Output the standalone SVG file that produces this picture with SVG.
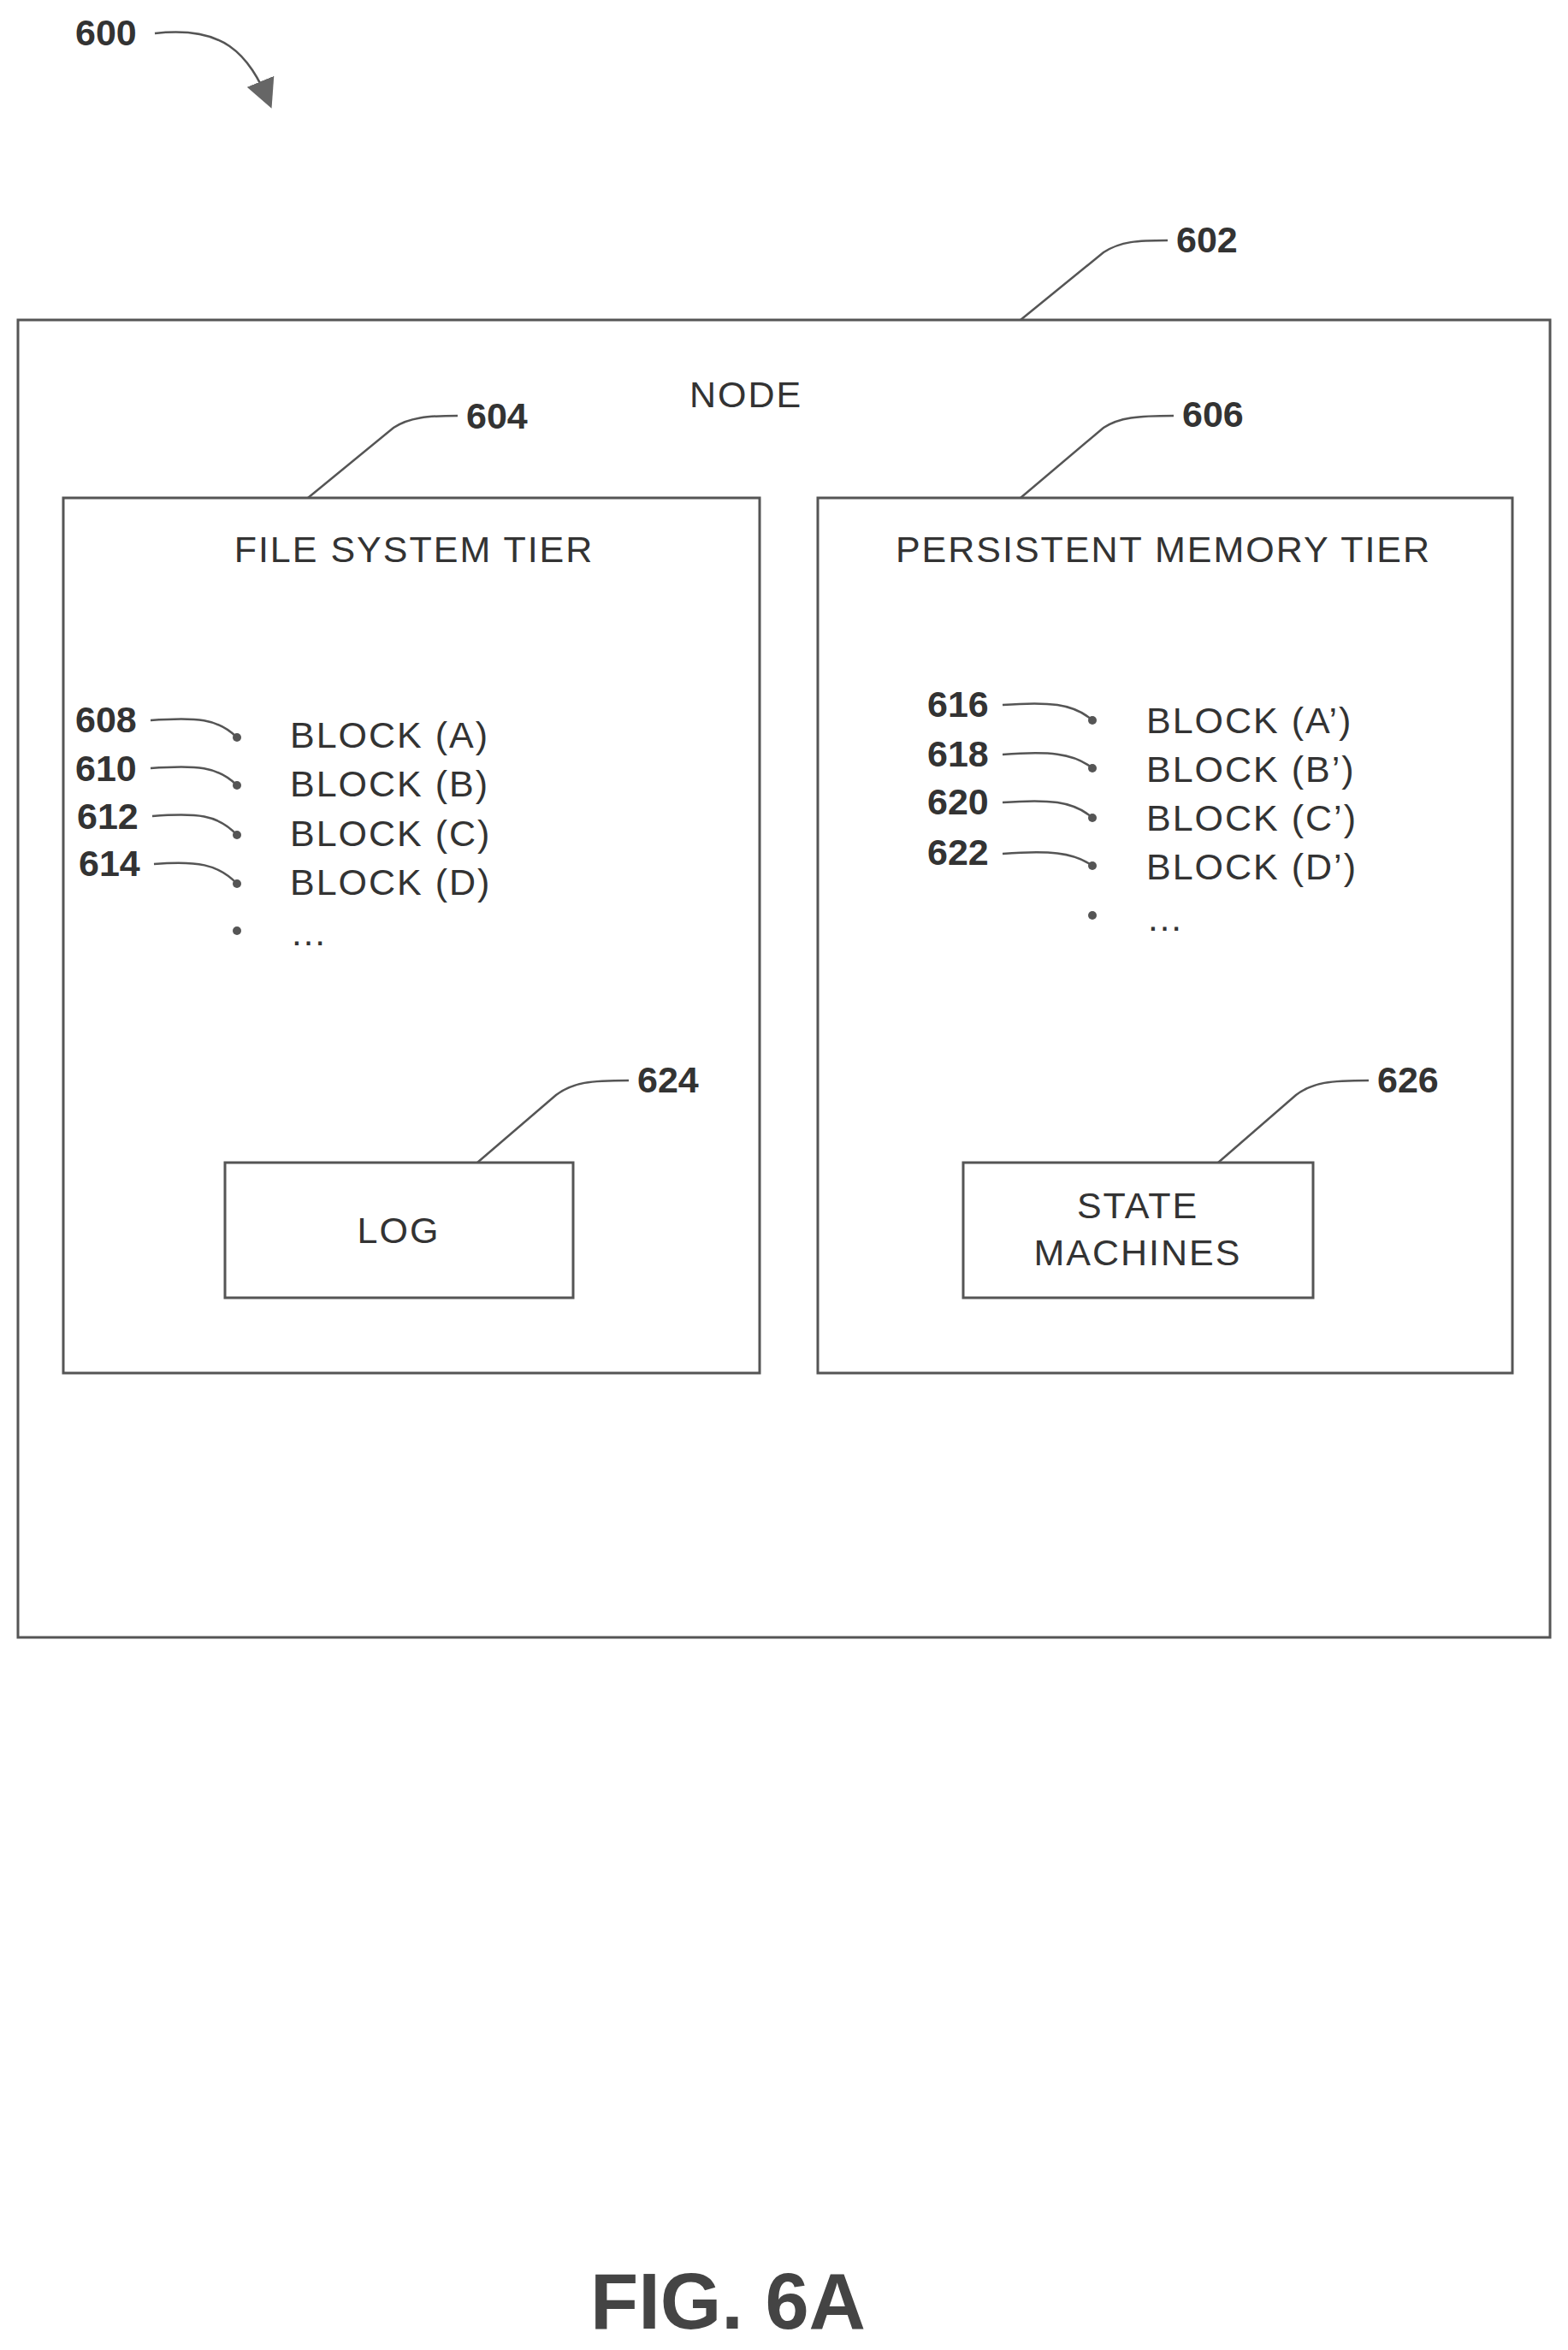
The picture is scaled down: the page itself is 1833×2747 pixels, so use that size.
<svg xmlns="http://www.w3.org/2000/svg" width="1833" height="2747" viewBox="0 0 1833 2747">
<style>
.box{fill:none;stroke:#555;stroke-width:3}
.ld{fill:none;stroke:#555;stroke-width:2.5}
.t{font-family:"Liberation Sans",Arial,sans-serif;font-size:43px;letter-spacing:2px;fill:#333}
.n{font-family:"Liberation Sans",Arial,sans-serif;font-size:43px;font-weight:bold;fill:#333}
.dot{fill:#555}
</style>
<defs>
<marker id="big" markerWidth="34" markerHeight="34" refX="30" refY="17" orient="auto" markerUnits="userSpaceOnUse" viewBox="0 0 34 34"><path d="M0,0 L34,17 L0,34 z" fill="#666"/></marker></defs>
<g id="node602"><rect class="box" x="21" y="374" width="1791" height="1540"/><text class="t" x="872" y="476" text-anchor="middle">NODE</text></g>
<g id="tier604"><rect class="box" x="74" y="582" width="814" height="1023"/><text class="t" x="484" y="657" text-anchor="middle">FILE SYSTEM TIER</text>
<text class="t" x="339" y="874">BLOCK (A)</text><text class="t" x="339" y="931">BLOCK (B)</text><text class="t" x="339" y="989">BLOCK (C)</text><text class="t" x="339" y="1046">BLOCK (D)</text><text class="t" x="339" y="1105">…</text>
<circle class="dot" cx="277" cy="862" r="5"/><circle class="dot" cx="277" cy="918" r="5"/><circle class="dot" cx="277" cy="976" r="5"/><circle class="dot" cx="277" cy="1033" r="5"/><circle class="dot" cx="277" cy="1088" r="5"/></g>
<g id="tier606"><rect class="box" x="956" y="582" width="812" height="1023"/><text class="t" x="1360" y="657" text-anchor="middle">PERSISTENT MEMORY TIER</text>
<text class="t" x="1340" y="857">BLOCK (A’)</text><text class="t" x="1340" y="914">BLOCK (B’)</text><text class="t" x="1340" y="971">BLOCK (C’)</text><text class="t" x="1340" y="1028">BLOCK (D’)</text><text class="t" x="1340" y="1088">…</text>
<circle class="dot" cx="1277" cy="842" r="5"/><circle class="dot" cx="1277" cy="898" r="5"/><circle class="dot" cx="1277" cy="956" r="5"/><circle class="dot" cx="1277" cy="1012" r="5"/><circle class="dot" cx="1277" cy="1070" r="5"/></g>
<g id="log624"><rect class="box" x="263" y="1359" width="407" height="158"/><text class="t" x="466" y="1453" text-anchor="middle">LOG</text></g>
<g id="sm626"><rect class="box" x="1126" y="1359" width="409" height="158"/><text class="t" x="1330" y="1424" text-anchor="middle">STATE</text><text class="t" x="1330" y="1479" text-anchor="middle">MACHINES</text></g>
<g id="labels">
<text class="n" x="88" y="53">600</text><text class="n" x="1375" y="295">602</text><text class="n" x="545" y="501">604</text><text class="n" x="1382" y="499">606</text>
<text class="n" x="88" y="856">608</text><text class="n" x="88" y="913">610</text><text class="n" x="90" y="969">612</text><text class="n" x="92" y="1024">614</text>
<text class="n" x="1084" y="838">616</text><text class="n" x="1084" y="896">618</text><text class="n" x="1084" y="952">620</text><text class="n" x="1084" y="1011">622</text>
<text class="n" x="745" y="1277">624</text><text class="n" x="1610" y="1277">626</text>
<text x="851" y="2722" text-anchor="middle" style="font-family:'Liberation Sans',Arial,sans-serif;font-size:92px;font-weight:bold;fill:#444">FIG. 6A</text></g>
<g id="connectors">
<path class="ld" d="M181,39 C260,30 290,60 316,123" marker-end="url(#big)"/>
<path class="ld" d="M1193,374 L1290,295 C1310,282 1330,281 1365,281"/>
<path class="ld" d="M360,582 L460,500 C478,488 500,486 535,486"/>
<path class="ld" d="M1193,582 L1290,500 C1308,488 1330,486 1372,486"/>
<path class="ld" d="M558,1359 L650,1280 C670,1265 690,1263 735,1263"/>
<path class="ld" d="M1424,1359 L1515,1280 C1535,1265 1555,1263 1600,1263"/>
<path class="ld" d="M176,842 C230,838 255,840 277,862"/>
<path class="ld" d="M176,898 C230,894 255,896 277,918"/>
<path class="ld" d="M178,954 C230,950 255,952 277,976"/>
<path class="ld" d="M180,1010 C230,1006 255,1010 277,1033"/>
<path class="ld" d="M1172,824 C1225,820 1255,822 1277,842"/>
<path class="ld" d="M1172,882 C1225,878 1255,880 1277,898"/>
<path class="ld" d="M1172,938 C1225,934 1255,936 1277,956"/>
<path class="ld" d="M1172,998 C1225,994 1255,996 1277,1012"/>
</g>
</svg>
